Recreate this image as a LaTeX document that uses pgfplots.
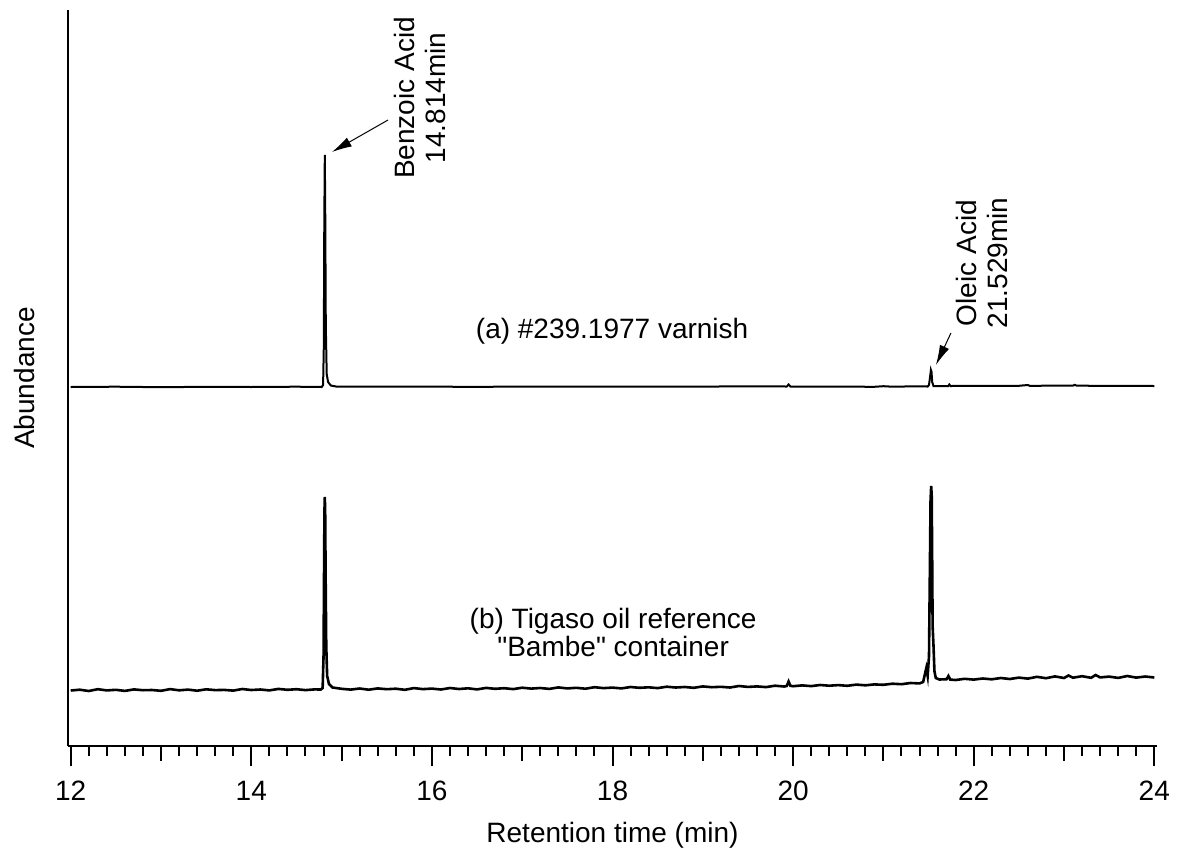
\documentclass[border=0pt]{standalone}
\usepackage{fontspec}
\setmainfont{Liberation Sans}
\newfontfamily\plainfont{Liberation Sans}
\usepackage{pgfplots}
\pgfplotsset{compat=1.18}
\usetikzlibrary{arrows.meta}
\begin{document}
\begin{tikzpicture}
\useasboundingbox (-34pt,-53.5pt) rectangle (559.5pt,373pt);
\begin{axis}[
  at={(0,0)}, anchor=south west,
  scale only axis, width=544.5pt, height=368pt,
  xmin=11.97, xmax=24.03, ymin=0, ymax=736,
  axis x line*=bottom, axis y line*=left,
  axis line style={line width=1pt, -},
  ytick=\empty,
  xtick={12,13,...,24}, minor x tick num=4,
  xticklabels={12,,14,,16,,18,,20,,22,,24},
  xtick pos=left,
  tick align=outside,
  major tick length=7.5pt, minor tick length=5pt,
  every tick/.style={line width=1pt, black},
  /pgf/number format/assume math mode=true,
  xticklabel style={font=\fontsize{14}{16}\selectfont, yshift=-6.5pt},
  xlabel={Retention time (min)},
  ylabel={Abundance},
  every axis x label/.style={at={(axis description cs:0.5,-0.121)}, anchor=center, font=\fontsize{14}{16}\selectfont},
  every axis y label/.style={at={(axis description cs:-0.0395,0.5)}, rotate=90, anchor=center, font=\fontsize{14}{16}\selectfont},
  clip=false,
]
% (a) varnish trace
\addplot[black, line width=1pt] coordinates {
(12.0,359) (12.5,359.3) (13.0,358.8) (13.5,359.2) (14.0,359) (14.5,359.3) (14.78,359)
(14.795,361) (14.803,400) (14.808,520) (14.814,591) (14.819,530) (14.825,420)
(14.835,372) (14.85,364) (14.88,360.5) (14.95,359.3) (15.5,359.4) (16.5,359.2)
(17.5,359.5) (18.5,359.3) (19.5,359.6) (19.93,359.5) (19.95,361.5) (19.97,359.5)
(20.5,359.4) (20.9,359.2) (21.0,359.8) (21.1,359.3) (21.3,359.6) (21.49,359.5)
(21.505,361) (21.518,370) (21.526,376) (21.533,374) (21.54,364) (21.555,360)
(21.72,360) (21.73,361.5) (21.745,360) (22.5,360.2) (22.6,361) (22.62,360.2)
(23.1,360.4) (23.12,361.2) (23.14,360.3) (24.0,360)
};
% (b) Tigaso oil reference trace
\addplot[black, line width=1.3pt] coordinates {
(12.0,55.5) (12.1,56.3) (12.2,55.0) (12.3,56.8) (12.4,55.6) (12.5,56.2) (12.6,55.1)
(12.7,56.6) (12.8,55.8) (12.9,56.0) (13.0,55.2) (13.1,56.9) (13.2,55.7) (13.3,56.4)
(13.4,55.3) (13.5,56.7) (13.6,55.9) (13.7,56.1) (13.8,55.4) (13.9,57.0) (14.0,56.0)
(14.1,56.5) (14.2,55.6) (14.3,57.1) (14.4,56.2) (14.5,56.8) (14.6,55.9) (14.7,56.6)
(14.77,56.5) (14.79,58) (14.800,90) (14.806,180) (14.810,235) (14.814,249)
(14.818,235) (14.823,170) (14.83,100) (14.84,70) (14.86,62) (14.9,58.5)
(15.0,57.2) (15.1,56.4) (15.2,57.5) (15.3,56.3) (15.4,57.6) (15.5,56.8) (15.6,57.3)
(15.7,56.2) (15.8,57.9) (15.9,56.9) (16.0,57.4) (16.1,56.5) (16.2,58.0) (16.3,57.0)
(16.4,57.7) (16.5,56.6) (16.6,58.1) (16.7,57.2) (16.8,57.8) (16.9,56.9) (17.0,58.3)
(17.1,57.4) (17.2,58.0) (17.3,57.1) (17.4,58.6) (17.5,57.6) (17.6,58.2) (17.7,57.3)
(17.8,58.8) (17.9,57.9) (18.0,58.4) (18.1,57.6) (18.2,59.0) (18.3,58.2) (18.4,58.7)
(18.5,57.9) (18.6,59.3) (18.7,58.5) (18.8,59.0) (18.9,58.2) (19.0,59.6) (19.1,58.8)
(19.2,59.2) (19.3,58.5) (19.4,60.0) (19.5,59.1) (19.6,59.6) (19.7,58.9) (19.8,60.3)
(19.9,59.5) (19.93,60) (19.95,64.5) (19.97,60.2) (20.0,59.8) (20.1,60.6) (20.2,59.9)
(20.3,61.0) (20.4,60.3) (20.5,60.9) (20.6,60.2) (20.7,61.4) (20.8,60.7) (20.9,61.6)
(21.0,61.2) (21.1,62.3) (21.2,61.8) (21.3,63.0) (21.4,62.6) (21.44,64) (21.46,72)
(21.475,78) (21.49,70) (21.505,90) (21.515,180) (21.522,245) (21.529,260)
(21.535,250) (21.54,190) (21.545,120) (21.555,100) (21.565,75) (21.58,68)
(21.62,66.5) (21.7,66.8) (21.72,70) (21.74,66.4) (21.8,66.0) (21.9,67.2) (22.0,66.4)
(22.1,67.5) (22.2,66.7) (22.3,68.0) (22.4,67.0) (22.5,68.4) (22.6,67.4) (22.7,69.2)
(22.8,67.8) (22.9,69.6) (23.0,68.0) (23.05,70.5) (23.1,68.3) (23.2,69.8) (23.3,68.2)
(23.35,71) (23.4,68.6) (23.5,69.4) (23.6,68.1) (23.7,70.0) (23.8,68.4) (23.9,69.5)
(24.0,68.5)
};
% longer ticks at labelled positions
\pgfplotsinvokeforeach{12,14,16,18,20,22,24}{
  \draw[line width=1pt] (axis cs:#1,0) -- ([yshift=-10pt]axis cs:#1,0);
}
% annotations
\node[rotate=90, align=center, font=\fontsize{14}{15.5}\selectfont] at (axis cs:15.868,648) {Benzoic Acid\\14.814min};
\draw[line width=0.5pt, -{Latex[length=10pt,width=5pt]}] (axis cs:15.514,626) -- (axis cs:14.893,594);
\node[rotate=90, align=center, font=\fontsize{14}{15.5}\selectfont] at (axis cs:22.092,483) {Oleic Acid\\21.529min};
\draw[line width=0.5pt, -{Latex[length=10pt,width=5pt]}] (axis cs:21.748,413) -- (axis cs:21.582,381);
\node[font=\fontsize{14}{16}\selectfont] at (axis cs:17.996,415) {(a) \#239.1977 varnish};
\node[align=center, font=\fontsize{14}{14}\plainfont] at (axis cs:18.007,114) {(b) Tigaso oil reference\\"Bambe" container};
\end{axis}
\end{tikzpicture}
\end{document}
